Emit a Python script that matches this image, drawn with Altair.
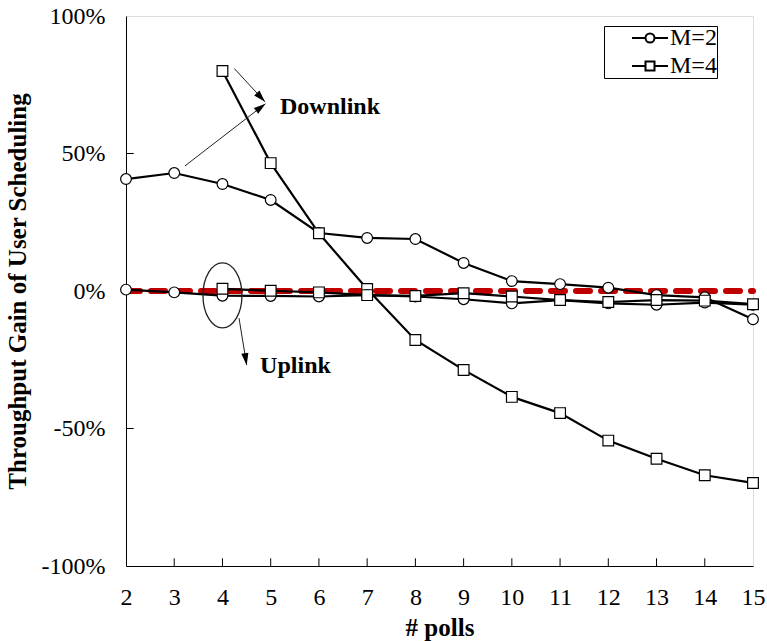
import altair as alt
import pandas as pd

# Number of polls on the x axis
polls = list(range(2, 16))
polls_m4 = list(range(4, 16))

# Throughput gain of user scheduling (%)
downlink_m2 = [40.7, 42.9, 38.9, 33.1, 21.1, 19.3, 18.9, 10.2, 3.6, 2.5, 1.2, -1.5, -2.3, -10.3]
downlink_m4 = [80.0, 46.5, 21.0, 0.7, -17.8, -28.7, -38.5, -44.4, -54.4, -61.0, -67.0, -69.8]
uplink_m2 = [0.5, -0.5, -1.7, -1.8, -2.0, -1.5, -2.0, -3.0, -4.5, -3.3, -4.5, -5.0, -4.2, -5.0]
uplink_m4 = [0.8, 0.1, -0.5, -1.5, -1.8, -0.8, -2.0, -3.3, -4.0, -3.3, -3.5, -4.8]

m_labels = ["M=2", "M=4"]
y_ticks = [-100, -50, 0, 50, 100]

rows = []
for link, m, xs, ys in [
    ("Downlink", "M=2", polls, downlink_m2),
    ("Downlink", "M=4", polls_m4, downlink_m4),
    ("Uplink", "M=2", polls, uplink_m2),
    ("Uplink", "M=4", polls_m4, uplink_m4),
]:
    for xv, yv in zip(xs, ys):
        rows.append({"polls": xv, "gain": yv, "M": m, "series": f"{link} {m}"})
df = pd.DataFrame(rows)

FONT = "Liberation Serif"

x_scale = alt.Scale(domain=[2, 15], nice=False, zero=False)
y_scale = alt.Scale(domain=[-100, 100], nice=False, zero=False)

x_axis = alt.Axis(
    values=polls, title="# polls", tickSize=0, grid=False, labelAngle=0, labelFlush=False,
    labelFont=FONT, labelFontSize=24, labelColor="black", labelPadding=19,
    titleFont=FONT, titleFontSize=25, titleFontWeight="bold", titleColor="black",
    titlePadding=6, domainColor="black",
)
y_axis = alt.Axis(
    values=y_ticks, title="Throughput Gain of User Scheduling", tickSize=0, grid=False,
    labelExpr="datum.value + '%'", labelFlush=False,
    labelFont=FONT, labelFontSize=24, labelColor="black", labelPadding=21,
    titleFont=FONT, titleFontSize=25, titleFontWeight="bold", titleColor="black",
    titlePadding=11, domainColor="black",
)


def X(field):
    return alt.X(f"{field}:Q", scale=x_scale, axis=x_axis)


def Y(field):
    return alt.Y(f"{field}:Q", scale=y_scale, axis=y_axis)


# Zero-gain reference line
ref_df = pd.DataFrame({"x0": [2], "x1": [15], "y": [0]})
ref_line = alt.Chart(ref_df).mark_rule(
    color="#C00000", strokeWidth=6, strokeDash=[14, 11], strokeCap="round"
).encode(x=X("x0"), x2="x1:Q", y=Y("y"))

lines = alt.Chart(df).mark_line(color="black", strokeWidth=2.2).encode(
    x=X("polls"), y=Y("gain"), detail="series:N", order="polls:Q"
)

points = alt.Chart(df).mark_point(
    filled=True, fill="white", stroke="black", strokeWidth=1.2, size=115, opacity=1
).encode(
    x=X("polls"), y=Y("gain"),
    shape=alt.Shape("M:N", scale=alt.Scale(domain=m_labels, range=["circle", "square"]), legend=None),
)

# Inward tick marks
xtick_df = pd.DataFrame({"polls": polls[1:-1], "lo": -100, "hi": -97.2})
xticks = alt.Chart(xtick_df).mark_rule(color="black", strokeWidth=1).encode(
    x=X("polls"), y=Y("lo"), y2="hi:Q"
)
ytick_df = pd.DataFrame({"gain": [50, -50], "x0": 2, "x1": 2.16})
yticks = alt.Chart(ytick_df).mark_rule(color="black", strokeWidth=1).encode(
    x=X("x0"), x2="x1:Q", y=Y("gain")
)

# Annotation arrows
arrow_df = pd.DataFrame({
    "x0": [4.245, 3.223, 4.343],
    "y0": [80.9, 45.5, -9.85],
    "x1": [4.882, 4.892, 4.502],
    "y1": [68.8, 68.1, -26.9],
})
arrows = alt.Chart(arrow_df).mark_rule(color="#222222", strokeWidth=1).encode(
    x=X("x0"), y=Y("y0"), x2="x1:Q", y2="y1:Q"
)
head_df = pd.DataFrame({
    "x": [4.797, 4.794, 4.483],
    "y": [70.4, 66.8, -24.8],
    "angle": [137.2, 52.3, 171.0],
})
heads = alt.Chart(head_df).mark_point(
    shape="M0,-1L0.6,1L-0.6,1Z", filled=True, color="black", size=144, opacity=1
).encode(x=X("x"), y=Y("y"), angle=alt.Angle("angle:Q", scale=None))

ellipse_df = pd.DataFrame({"x": [4.0], "y": [-1.6]})
ellipse = alt.Chart(ellipse_df).mark_point(
    shape="M-0.6,0A0.6,1,0,1,1,0.6,0A0.6,1,0,1,1,-0.6,0",
    filled=False, color="#222222", strokeWidth=1.3, size=4225, opacity=1,
).encode(x=X("x"), y=Y("y"))

label_df = pd.DataFrame({"x": [6.23, 5.514], "y": [66.9, -27.1], "text": ["Downlink", "Uplink"]})
labels = alt.Chart(label_df).mark_text(
    font=FONT, fontSize=24, fontWeight="bold", color="black", align="center", baseline="middle"
).encode(x=X("x"), y=Y("y"), text="text:N")

# Legend: line-and-marker symbols
circle_sym = "M-2,0L-0.5,0M0.5,0A0.5,0.5,0,1,1,-0.5,0A0.5,0.5,0,1,1,0.5,0M0.5,0L2,0"
square_sym = "M-2,0L-0.5,0M-0.5,-0.5L0.5,-0.5L0.5,0.5L-0.5,0.5ZM0.5,0L2,0"
legend_df = pd.DataFrame({"polls": [2, 2], "gain": [0, 0], "M": m_labels})
legend_layer = alt.Chart(legend_df).mark_point(
    filled=False, color="black", strokeWidth=2, opacity=0
).encode(
    x=X("polls"), y=Y("gain"),
    shape=alt.Shape(
        "M:N",
        scale=alt.Scale(domain=m_labels, range=[circle_sym, square_sym]),
        legend=alt.Legend(
            title=None, orient="none", legendX=478, legendY=10,
            symbolOpacity=1, symbolSize=324, symbolStrokeWidth=2, symbolOffset=34,
            symbolStrokeColor="black", symbolFillColor="white",
            labelFont=FONT, labelFontSize=24, labelColor="black", labelOffset=8,
            labelExpr="datum.label + '\u2002\u2002\u2002'",
            rowPadding=4, padding=0, strokeColor="black", fillColor="white",
        ),
    ),
)

chart = alt.layer(
    ref_line, lines, points, xticks, yticks, arrows, heads, ellipse, labels, legend_layer
).resolve_scale(shape="independent").properties(
    width=627, height=550,
    autosize=alt.AutoSizeParams(type="none"),
    padding={"left": 126, "top": 16, "right": 14, "bottom": 75},
).configure_view(stroke="black", strokeWidth=1).configure(background="white")

chart.save("out.html", embed_options={"renderer": "svg", "actions": False})
